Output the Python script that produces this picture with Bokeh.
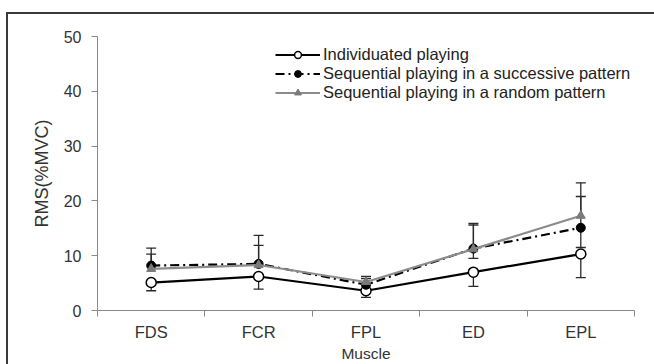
import numpy as np
from bokeh.plotting import figure
from bokeh.models import FixedTicker, Range1d, Legend, LegendItem
from bokeh.embed import file_html
from bokeh.resources import INLINE

muscles = ["FDS", "FCR", "FPL", "ED", "EPL"]
individuated = [5.1, 6.2, 3.6, 7.0, 10.3]
successive = [8.2, 8.5, 4.7, 11.3, 15.1]
random_pat = [7.6, 8.3, 5.2, 11.2, 17.3]

# error bar ends (nan = none visible)
ind_lower = [3.6, 3.9, 2.4, 4.4, 6.0]
suc_upper = [10.3, 11.9, 5.8, 15.6, 20.8]
suc_lower = [np.nan, np.nan, np.nan, 9.5, 11.5]
rnd_upper = [11.4, 13.7, 6.2, 15.9, 23.3]

y_ticks = [0, 10, 20, 30, 40, 50]
x_title = "Muscle"
y_title = "RMS(%MVC)"

x = np.arange(len(muscles)) + 0.5

W, H = 654, 364
p = figure(width=W, height=H, output_backend="svg", toolbar_location=None,
           x_range=Range1d(0, len(muscles)), y_range=Range1d(0, 50),
           min_border_left=97, min_border_right=20, min_border_top=36, min_border_bottom=54)
p.grid.visible = False
p.outline_line_color = None
p.border_fill_alpha = 0
p.background_fill_alpha = 0
# left and top edges of the original picture box
p.styles = {
    "background-image": "linear-gradient(#3a3a3a,#3a3a3a), linear-gradient(#3a3a3a,#3a3a3a)",
    "background-position": "6px 12px, 6px 12px",
    "background-size": "2px 400px, 700px 2px",
    "background-repeat": "no-repeat, no-repeat",
}

font = "Liberation Sans"
ax = p.xaxis[0]
ax.ticker = FixedTicker(ticks=list(x), minor_ticks=list(np.arange(len(muscles) + 1)))
ax.major_label_overrides = {float(v): m for v, m in zip(x, muscles)}
ax.major_tick_out = 0
ax.major_tick_in = 0
ax.minor_tick_out = 6
ax.minor_tick_in = 0
ax.minor_tick_line_color = "#8a8a8a"
ax.axis_line_color = "#8a8a8a"
ax.major_label_standoff = 6
ax.major_label_text_font = font
ax.major_label_text_font_size = "16.5px"
ax.major_label_text_color = "#333333"
ax.axis_label = x_title
ax.axis_label_standoff = 1
ax.axis_label_text_font = font
ax.axis_label_text_font_size = "15.5px"
ax.axis_label_text_font_style = "normal"
ax.axis_label_text_color = "#333333"

ay = p.yaxis[0]
ay.ticker = FixedTicker(ticks=y_ticks, minor_ticks=[])
ay.major_tick_out = 6
ay.major_tick_in = 0
ay.major_tick_line_color = "#8a8a8a"
ay.axis_line_color = "#8a8a8a"
ay.major_label_standoff = 10
ay.major_label_text_font = font
ay.major_label_text_font_size = "16px"
ay.major_label_text_color = "#333333"
ay.axis_label = y_title
ay.axis_label_standoff = 9
ay.axis_label_text_font = font
ay.axis_label_text_font_size = "18px"
ay.axis_label_text_font_style = "normal"
ay.axis_label_text_color = "#333333"

err_color = "#2a2a2a"


def errbars(ends, means):
    ends = np.array(ends, dtype=float)
    means = np.array(means, dtype=float)
    ok = ~np.isnan(ends)
    p.segment(x0=x[ok], y0=means[ok], x1=x[ok], y1=ends[ok], line_color=err_color, line_width=1.3)
    p.scatter(x=x[ok], y=ends[ok], marker="dash", size=10, line_color=err_color, line_width=1.3)


errbars(ind_lower, individuated)
errbars(suc_upper, successive)
errbars(suc_lower, successive)
errbars(rnd_upper, random_pat)

l1 = p.line(x, individuated, line_color="black", line_width=2.2)
m1 = p.scatter(x, individuated, marker="circle", size=10, fill_color="white", line_color="black", line_width=1.5)
l2 = p.line(x, successive, line_color="black", line_width=2.2, line_dash="9 4 2 4")
m2 = p.scatter(x, successive, marker="circle", size=9, fill_color="black", line_color="black")
l3 = p.line(x, random_pat, line_color="#8c8c8c", line_width=2.2)
m3 = p.scatter(x, random_pat, marker="triangle", size=9, fill_color="#7a7a7a", line_color="#7a7a7a")

legend = Legend(items=[
    LegendItem(label="Individuated playing", renderers=[l1, m1]),
    LegendItem(label="Sequential playing in a successive pattern", renderers=[l2, m2]),
    LegendItem(label="Sequential playing in a random pattern", renderers=[l3, m3]),
], location=(178, 208))
legend.background_fill_alpha = 0
legend.border_line_color = None
legend.padding = 0
legend.margin = 0
legend.spacing = -3
legend.label_height = 17
legend.glyph_height = 17
legend.glyph_width = 45
legend.label_standoff = 3
legend.label_text_font = font
legend.label_text_font_size = "16.5px"
legend.label_text_color = "#222222"
p.add_layout(legend)

open("out.html", "w").write(file_html(p, INLINE))
